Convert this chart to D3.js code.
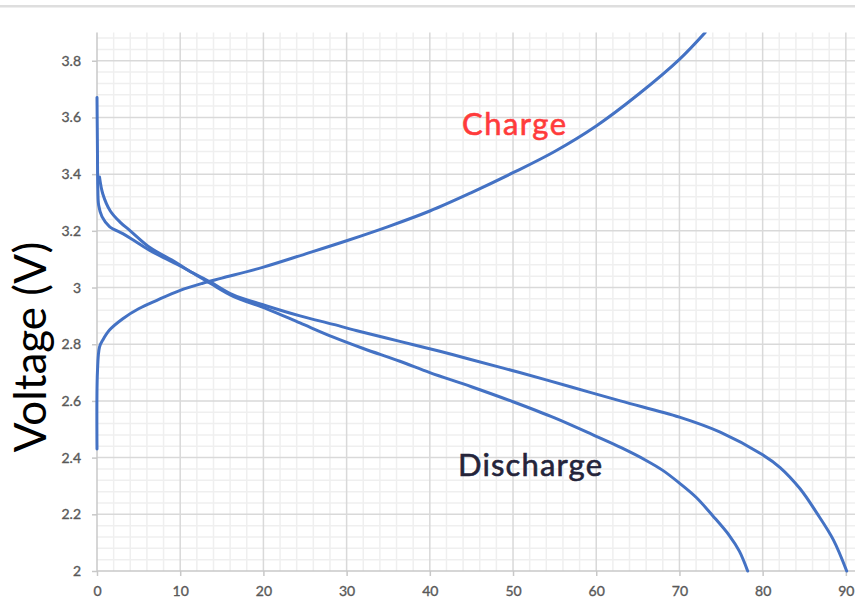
<!DOCTYPE html>
<html>
<head>
<meta charset="utf-8">
<script src="https://cdn.jsdelivr.net/npm/d3@7"></script>
<style>
  html, body { margin: 0; padding: 0; background: #ffffff; }
  svg { display: block; }
</style>
</head>
<body>
<div id="chart"></div>
<script>
// ---- Data ----
const xTicks = [0, 10, 20, 30, 40, 50, 60, 70, 80, 90];
const yTicks = [2, 2.2, 2.4, 2.6, 2.8, 3, 3.2, 3.4, 3.6, 3.8];
const yTickLabels = ["2", "2.2", "2.4", "2.6", "2.8", "3", "3.2", "3.4", "3.6", "3.8"];

const chargeX = [0, 0.05, 0.3, 0.7, 1.5, 3.1, 5, 7.2, 10, 12.7, 15, 20, 25, 30, 35, 40, 45, 50, 55, 60, 65, 70, 73.1];
const chargeV = [2.43, 2.70, 2.79, 2.815, 2.85, 2.89, 2.925, 2.955, 2.99, 3.015, 3.033, 3.072, 3.118, 3.165, 3.215, 3.27, 3.335, 3.405, 3.48, 3.57, 3.68, 3.805, 3.90];

const dischargeAX = [0, 0.05, 0.1, 0.2, 0.6, 1.5, 3.1, 4.5, 6.4, 9.4, 11, 13.6, 16.3, 20.4, 24.4, 28.4, 32, 36.4, 40, 45, 50, 55, 60, 63, 66, 68, 70, 72, 74, 76, 77.2, 78.2];
const dischargeAV = [3.67, 3.50, 3.35, 3.29, 3.25, 3.215, 3.19, 3.165, 3.13, 3.085, 3.06, 3.015, 2.97, 2.925, 2.875, 2.825, 2.785, 2.74, 2.70, 2.65, 2.597, 2.54, 2.475, 2.435, 2.39, 2.355, 2.31, 2.26, 2.195, 2.125, 2.07, 2.0];

const dischargeBX = [0.3, 0.7, 1.6, 2.8, 4.0, 6.4, 9.4, 11, 13.6, 16.3, 20.4, 24.4, 28.4, 31.6, 36.4, 41.2, 44.8, 50.8, 56.9, 62.9, 70, 74.9, 80, 82.1, 84.5, 86.5, 88.5, 90.1];
const dischargeBV = [3.39, 3.33, 3.27, 3.23, 3.20, 3.14, 3.09, 3.06, 3.02, 2.975, 2.935, 2.90, 2.87, 2.845, 2.81, 2.775, 2.747, 2.70, 2.65, 2.60, 2.543, 2.49, 2.41, 2.365, 2.29, 2.205, 2.11, 2.0];

const labels = ["Charge", "Discharge"];
const yTitle = "Voltage (V)";

(function () {
// ---- Layout ----
const W = 855, H = 604;
const pL = 97, pR = 855, pT = 32.4, pB = 571;

const svg = d3.select("#chart").append("svg")
  .attr("width", W).attr("height", H)
  .attr("viewBox", `0 0 ${W} ${H}`);

svg.append("rect").attr("width", W).attr("height", H).attr("fill", "#ffffff");
// thin gray rule at the very top of the picture
svg.append("rect").attr("x", 0).attr("y", 5).attr("width", W).attr("height", 2.5).attr("fill", "#dedede");

const x = d3.scaleLinear().domain([0, 91.1]).range([pL, pR]);
const y = d3.scaleLinear().domain([2, 3.9]).range([pB, pT]);

svg.append("clipPath").attr("id", "plotclip")
  .append("rect").attr("x", pL - 3).attr("y", pT).attr("width", pR - pL + 3).attr("height", pB - pT + 3);

// minor grid
const minorX = d3.range(0, 46).map(i => i * 2).filter(v => v % 10 !== 0 && v <= 91);
const minorY = d3.range(0, 48).map(i => 2 + i * 0.04)
  .filter(v => Math.abs((v * 5) - Math.round(v * 5)) > 1e-6 && v <= 3.9);
const g = svg.append("g");
g.selectAll("line.mx").data(minorX).join("line").attr("class", "mx")
  .attr("x1", d => x(d)).attr("x2", d => x(d))
  .attr("y1", pT).attr("y2", pB)
  .attr("stroke", "#efefef").attr("stroke-width", 1.5);
g.selectAll("line.my").data(minorY).join("line").attr("class", "my")
  .attr("x1", pL).attr("x2", pR)
  .attr("y1", d => y(d)).attr("y2", d => y(d))
  .attr("stroke", "#efefef").attr("stroke-width", 1.5);

// major grid
g.selectAll("line.Mx").data(xTicks.slice(1)).join("line").attr("class", "Mx")
  .attr("x1", d => x(d)).attr("x2", d => x(d))
  .attr("y1", pT).attr("y2", pB)
  .attr("stroke", "#d9d9d9").attr("stroke-width", 1.5);
g.selectAll("line.My").data(yTicks.slice(1)).join("line").attr("class", "My")
  .attr("x1", pL).attr("x2", pR)
  .attr("y1", d => y(d)).attr("y2", d => y(d))
  .attr("stroke", "#d9d9d9").attr("stroke-width", 1.5);

// axes
const yAxis = d3.axisLeft(y).tickValues(yTicks).tickFormat((d, i) => yTickLabels[i]).tickSize(5).tickPadding(11);
const xAxis = d3.axisBottom(x).tickValues(xTicks).tickFormat(d3.format("d")).tickSize(5).tickPadding(10);

const ya = svg.append("g").attr("transform", `translate(${pL},0)`).call(yAxis);
ya.select(".domain").attr("d", `M0,${pT}V${pB}`).attr("stroke", "#c8c8c8").attr("stroke-width", 1.5);
const xa = svg.append("g").attr("transform", `translate(0,${pB})`).call(xAxis);
xa.select(".domain").attr("d", `M${pL},0H${pR}`).attr("stroke", "#c8c8c8").attr("stroke-width", 1.5);

[ya, xa].forEach(a => {
  a.selectAll(".tick line").attr("stroke", "#c8c8c8").attr("stroke-width", 1.5);
  a.selectAll(".tick text")
    .attr("fill", "#595959")
    .attr("stroke", "#595959").attr("stroke-width", 0.35)
    .style("font-family", "Lato, 'Liberation Sans', sans-serif")
    .style("font-size", "14px");
});

// curves
const line = d3.line().x(d => x(d[0])).y(d => y(d[1])).curve(d3.curveCatmullRom.alpha(0.5));
const series = [
  d3.zip(chargeX, chargeV),
  d3.zip(dischargeAX, dischargeAV),
  d3.zip(dischargeBX, dischargeBV)
];
svg.append("g").attr("clip-path", "url(#plotclip)")
  .selectAll("path").data(series).join("path")
  .attr("d", line)
  .attr("fill", "none")
  .attr("stroke", "#4472c4")
  .attr("stroke-width", 3)
  .attr("stroke-linejoin", "round")
  .attr("stroke-linecap", "round");

// annotations
svg.append("text")
  .attr("x", 462).attr("y", 135)
  .attr("fill", "#ff3b3b")
  .attr("stroke", "#ff3b3b").attr("stroke-width", 0.6)
  .style("font-family", "Lato, 'Liberation Sans', sans-serif")
  .style("font-size", "31px")
  .attr("textLength", 104)
  .text(labels[0]);

svg.append("text")
  .attr("x", 458).attr("y", 476)
  .attr("fill", "#24243a")
  .attr("stroke", "#24243a").attr("stroke-width", 0.6)
  .style("font-family", "Lato, 'Liberation Sans', sans-serif")
  .style("font-size", "31px")
  .attr("textLength", 144)
  .text(labels[1]);

svg.append("text")
  .attr("transform", "translate(46,347) rotate(-90)")
  .attr("text-anchor", "middle")
  .attr("fill", "#000000")
  .style("font-family", "Lato, 'Liberation Sans', sans-serif")
  .style("font-size", "44px")
  .text(yTitle);
})();
</script>
</body>
</html>
